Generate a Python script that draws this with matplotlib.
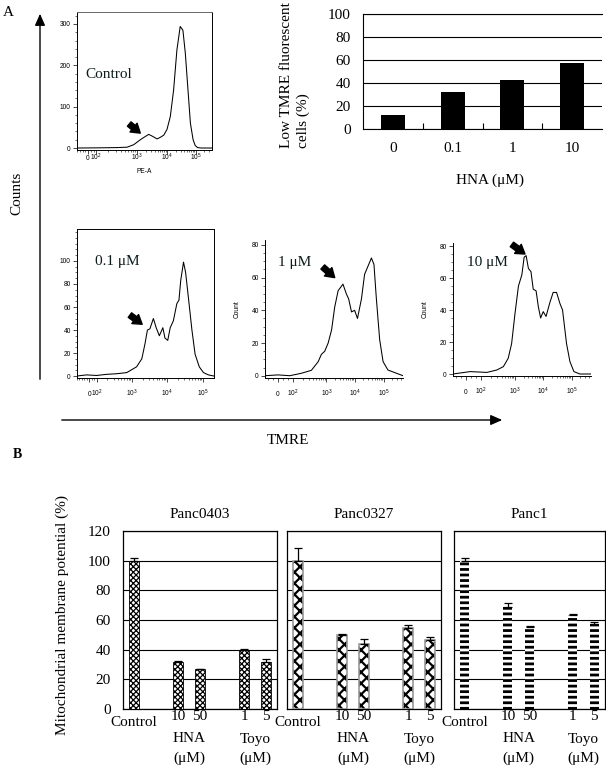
import matplotlib
matplotlib.use('Agg')
import matplotlib.pyplot as plt
import numpy as np

W, H = 606, 767
SERIF = ['Liberation Serif', 'DejaVu Serif']
SANS = ['Liberation Sans', 'DejaVu Sans']
plt.rcParams['font.family'] = SERIF
plt.rcParams['mathtext.fontset'] = 'custom'
plt.rcParams['mathtext.rm'] = 'Liberation Sans'
plt.rcParams['mathtext.default'] = 'regular'

# ---------------- data: panel A histograms (x in display decades, y = counts)
control_u = [0.98, 1.78, 2.33, 2.67, 2.89, 3.11, 3.28, 3.39, 3.50, 3.67, 3.78, 3.89, 4.00,
             4.11, 4.22, 4.33, 4.44, 4.53, 4.61, 4.69, 4.78, 4.87, 4.94, 5.02, 5.15, 5.50]
control_counts = [0, 0.5, 1, 2, 8, 20, 28, 33, 29, 22, 26, 31, 45,
                  76, 140, 237, 294, 285, 230, 150, 60, 20, 6, 1, 0, 0]

hna01_u = [1.42, 1.70, 1.99, 2.28, 2.56, 2.85, 3.13, 3.28, 3.37, 3.44, 3.51, 3.61, 3.69, 3.78,
           3.88, 3.94, 4.02, 4.09, 4.18, 4.28, 4.34, 4.39, 4.47, 4.53, 4.61, 4.71, 4.80,
           4.92, 5.04, 5.18, 5.34]
hna01_counts = [0, 1, 0.5, 1.5, 2, 3, 8, 15, 28, 40, 41, 50, 42, 35,
                42, 33, 31, 42, 48, 63, 66, 83, 99, 90, 68, 40, 19,
                8, 3, 1, 0]

hna1_u = [0.84, 1.30, 1.71, 2.12, 2.47, 2.71, 2.82, 2.94, 3.06, 3.18, 3.29, 3.41, 3.58, 3.70,
          3.78, 3.88, 3.99, 4.09, 4.23, 4.34, 4.46, 4.58, 4.67, 4.75, 4.87, 4.99, 5.16,
          5.46, 5.69]
hna1_counts = [0, 0.5, 0, 1.5, 3.3, 8.6, 13, 15, 20, 28, 42, 52, 56, 50,
               47, 39, 40, 35, 47, 62, 67, 72, 68, 48, 22, 8.6, 3.5,
               1.5, 0]

hna10_u = [0.82, 1.42, 2.01, 2.36, 2.59, 2.76, 2.88, 3.00, 3.12, 3.24, 3.32, 3.39, 3.47, 3.56,
           3.64, 3.74, 3.82, 3.90, 3.99, 4.09, 4.23, 4.34, 4.46, 4.58, 4.67, 4.81, 4.93,
           5.07, 5.28, 5.67]
hna10_counts = [0, 1.5, 1, 2.5, 4.6, 9.8, 19, 38, 55, 62, 73, 74, 66, 64,
                53, 52, 42, 35, 39, 36, 45, 51, 51, 44, 40, 19, 7.7,
                1.5, 0, 0]

# ---------------- data: panel A bar chart
hna_doses = ['0', '0.1', '1', '10']
low_tmre_pct = [12, 32, 43, 57]

# ---------------- data: panel B
b_categories = ['Control', '10', '50', '1', '5']
panc0403_vals = [100, 32, 27, 39.5, 32]
panc0403_err = [1.5, 0.5, 0.3, 1.0, 1.5]
panc0327_vals = [100, 50, 44, 54.5, 46.5]
panc0327_err = [8.5, 0.5, 3.0, 2.0, 2.0]
panc1_vals = [99.5, 69, 55, 63.5, 57]
panc1_err = [2.0, 2.2, 1.2, 0.8, 1.5]

fig = plt.figure(figsize=(W / 100, H / 100), dpi=100)


def px_axes(x0, y0, x1, y1):
    return fig.add_axes([x0 / W, 1 - y1 / H, (x1 - x0) / W, (y1 - y0) / H])


def fx(x):
    return x / W


def fy(y):
    return 1 - y / H


TICKLABELS = ['$0$', '$10^2$', '$10^3$', '$10^4$', '$10^5$']


def histogram(box, u, c, xlim, ylim, tpos, yticks, ystep, label, lab_xy, arrow,
              boxed, xpad, ylabel=None, xlabel=None, top_color='black'):
    ax = px_axes(*box)
    ax.plot(u, c, color='black', lw=0.75)
    ax.set_xlim(*xlim)
    ax.set_ylim(*ylim)
    ax.set_xticks(tpos)
    ax.set_xticklabels(TICKLABELS, fontsize=4.8, family=SANS)
    for lbl in ax.get_xticklabels():
        lbl.set_verticalalignment('baseline')
    # minor ticks of the biexponential axis
    p0, p2, p3, p4, p5 = tpos
    minors = []
    for pa, pb in [(p2, p3), (p3, p4), (p4, p5)]:
        minors += [pa + (pb - pa) * np.log10(k) for k in range(2, 10)]
    minors += [p5 + (p5 - p4) * np.log10(k) for k in range(2, 10)]
    step = (p2 - p0) / 3 if p2 - p0 > 0.1 else 0.12
    minors += list(np.arange(p0 - 6 * step, p2, step))
    minors = [m for m in minors if xlim[0] < m < xlim[1]]
    ax.set_xticks(minors, minor=True)
    ax.set_yticks(yticks)
    ax.set_yticklabels([str(t) for t in yticks], fontsize=4.8, family=SANS)
    ax.set_yticks(np.arange(0, ylim[1], ystep), minor=True)
    ax.tick_params(which='major', length=3, width=0.5, pad=1.5)
    ax.tick_params(axis='x', which='major', pad=xpad)
    ax.tick_params(which='minor', length=1.6, width=0.4)
    for s in ax.spines.values():
        s.set_linewidth(0.7)
    ax.spines['top'].set_visible(boxed)
    ax.spines['right'].set_visible(boxed)
    ax.spines['top'].set_color(top_color)
    ax.text(lab_xy[0], lab_xy[1], label, transform=ax.transAxes, fontsize=11,
            ha='left', va='center', color='#0c1a1a')
    (tx, ty), (hx, hy) = arrow
    ax.annotate('', xy=(hx, hy), xytext=(tx, ty),
                arrowprops=dict(arrowstyle='simple,head_width=0.9,head_length=0.7,tail_width=0.45',
                                color='black', mutation_scale=9, shrinkA=0, shrinkB=0))
    if ylabel:
        ax.set_ylabel(ylabel, fontsize=4.8, family=SANS, labelpad=8)
    if xlabel:
        ax.set_xlabel(xlabel, fontsize=4.8, family=SANS, labelpad=4)
    return ax


histogram((77, 12, 212, 150), control_u, control_counts, (1.0, 5.5), (-4.8, 329),
          [1.37, 1.64, 3.0, 4.0, 4.95], [0, 100, 200, 300], 20, 'Control', (0.06, 0.55),
          ((2.74, 58), (3.11, 36)), True, 4.5, xlabel='PE-A', top_color='#666666')
histogram((77, 229, 214, 378), hna01_u, hna01_counts, (1.43, 5.34), (-1.7, 127.8),
          [1.78, 1.99, 3.0, 4.0, 5.03], [0, 20, 40, 60, 80, 100], 5, '0.1 \u03bcM', (0.13, 0.78),
          ((2.94, 53), (3.29, 45)), True, 10)
histogram((265, 240, 403, 378), hna1_u, hna1_counts, (0.84, 5.69), (-1.4, 83),
          [1.30, 1.83, 3.0, 3.99, 5.01], [0, 20, 40, 60, 80], 5, '1 \u03bcM', (0.094, 0.84),
          ((2.87, 66.5), (3.29, 60)), False, 10, ylabel='Count')
histogram((453, 243, 591, 376), hna10_u, hna10_counts, (0.82, 5.67), (-1.25, 81.9),
          [1.27, 1.81, 3.0, 3.99, 4.99], [0, 20, 40, 60, 80], 5, '10 \u03bcM', (0.10, 0.857),
          ((2.89, 81), (3.35, 75)), False, 10, ylabel='Count')

# ---------------- panel A bar chart
axb = px_axes(363, 14, 602, 129)
xpos = np.arange(len(hna_doses)) + 0.5
axb.bar(xpos, low_tmre_pct, width=0.4, color='black', zorder=3)
axb.set_xlim(0, 4)
axb.set_ylim(0, 100)
axb.set_yticks([0, 20, 40, 60, 80, 100])
axb.tick_params(axis='y', length=0, pad=9, labelsize=11)
axb.yaxis.grid(True, color='black', lw=0.8)
axb.set_axisbelow(True)
axb.set_xticks([1, 2, 3])
axb.set_xticklabels([])
axb.tick_params(axis='x', which='major', direction='in', length=4, width=0.8)
axb.set_xticks(xpos, minor=True)
axb.set_xticklabels(hna_doses, minor=True, fontsize=11)
axb.tick_params(axis='x', which='minor', length=0, pad=9)
axb.spines['right'].set_visible(False)
for s in axb.spines.values():
    s.set_linewidth(0.8)
fig.text(fx(490), fy(180), 'HNA (\u03bcM)', fontsize=11, ha='center', va='center')
fig.text(fx(287), fy(148), 'Low TMRE fluorescent', rotation=90, fontsize=11,
         ha='center', va='bottom')
fig.text(fx(303), fy(148), 'cells (%)', rotation=90, fontsize=11, ha='center', va='bottom')

# ---------------- panel A annotations
fig.text(fx(3), fy(12), 'A', fontsize=11, ha='left', va='center')
fig.text(fx(17), fy(193), 'Counts', rotation=90, fontsize=11, ha='center', va='center')
fig.add_artist(matplotlib.patches.FancyArrowPatch(
    (fx(40), fy(382)), (fx(40), fy(11)), transform=fig.transFigure,
    arrowstyle='-|>,head_length=0.5,head_width=0.22', mutation_scale=14,
    color='black', lw=1.0))
fig.add_artist(matplotlib.patches.FancyArrowPatch(
    (fx(59), fy(420)), (fx(505), fy(420)), transform=fig.transFigure,
    arrowstyle='-|>,head_length=0.5,head_width=0.22', mutation_scale=14,
    color='black', lw=1.0))
fig.text(fx(288), fy(440), 'TMRE', fontsize=11, ha='center', va='center')

# ---------------- panel B
fig.text(fx(13), fy(455), 'B', fontsize=10, fontweight='bold', ha='left', va='center')
fig.text(fx(62), fy(615), 'Mitochondrial membrane potential (%)', rotation=90,
         fontsize=11, ha='center', va='center')

b_pos = [0.5, 2.5, 3.5, 5.5, 6.5]


def panel_b(box, title, vals, errs, style, show_y):
    ax = px_axes(*box)
    n = len(vals)
    lower = [0] * n
    if style == 'fine':
        bars = ax.bar(b_pos, vals, width=0.42, color='white', edgecolor='black',
                      hatch='xxxxxx', lw=0.6, zorder=3)
        hlw = 0.9
    elif style == 'coarse':
        bars = ax.bar(b_pos, vals, width=0.42, color='white', edgecolor='black',
                      hatch='xxx', lw=0, zorder=3)
        ax.bar(b_pos, vals, width=0.42, color='none', edgecolor='#999999', lw=1.2, zorder=4)
        hlw = 1.6
    else:
        bars = ax.bar(b_pos, vals, width=0.42, color='white', edgecolor='black',
                      hatch='---', lw=0, zorder=3)
        hlw = 2.0
    for b in bars:
        if hasattr(b, 'set_hatch_linewidth'):
            b.set_hatch_linewidth(hlw)
    ax.errorbar(b_pos, vals, yerr=[lower, errs], fmt='none', ecolor='black',
                elinewidth=0.9, capsize=3, capthick=0.9, zorder=5)
    ax.set_xlim(0, 7)
    ax.set_ylim(0, 120)
    ax.set_yticks([0, 20, 40, 60, 80, 100, 120])
    ax.yaxis.grid(True, color='black', lw=0.8)
    ax.set_axisbelow(True)
    ax.tick_params(axis='y', length=0, pad=9, labelsize=11, labelleft=show_y)
    ax.set_xticks([])
    for s in ax.spines.values():
        s.set_linewidth(0.9)
    ax.text(0.5, 1 + 17 / 178, title, transform=ax.transAxes, fontsize=11,
            ha='center', va='center')
    tr = ax.get_xaxis_transform()
    hgt = box[3] - box[1]
    for p, lab in zip(b_pos, b_categories):
        off = 14 if lab == 'Control' else 8
        ax.text(p, -off / hgt, lab, transform=tr, fontsize=11, ha='center', va='center')
    for cx, name in [(3.0, 'HNA'), (6.0, 'Toyo')]:
        ax.text(cx, -30 / hgt, name, transform=tr, fontsize=11, ha='center', va='center')
        ax.text(cx, -49 / hgt, '(\u03bcM)', transform=tr, fontsize=11, ha='center', va='center')
    return ax


panel_b((123, 531, 277, 709), 'Panc0403', panc0403_vals, panc0403_err, 'fine', True)
panel_b((287, 531, 441, 709), 'Panc0327', panc0327_vals, panc0327_err, 'coarse', False)
panel_b((454, 531, 605, 709), 'Panc1', panc1_vals, panc1_err, 'stripe', False)

fig.savefig('out.png', dpi=100)
